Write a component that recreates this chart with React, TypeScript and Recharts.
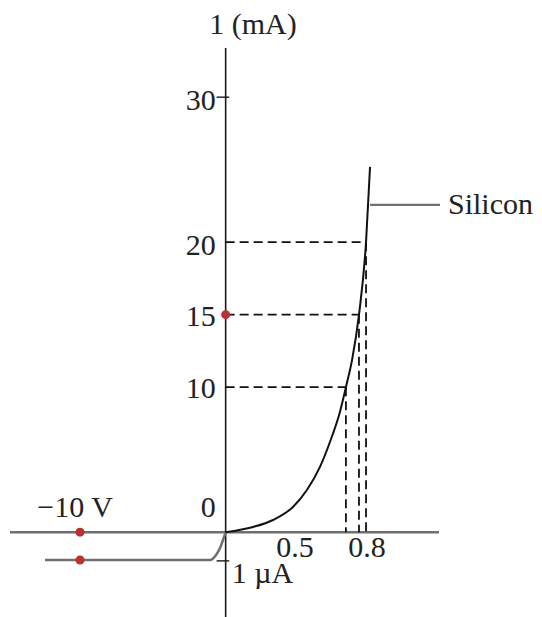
import React from 'react';
import { ComposedChart, XAxis, YAxis, Line, Scatter, ReferenceLine } from 'recharts';

// Forward-bias silicon curve (V in volts, I in mA)
const forwardCurve = [
  { v: 0, i: 0 },
  { v: 0.151, i: 0.36 },
  { v: 0.261, i: 0.84 },
  { v: 0.371, i: 1.74 },
  { v: 0.448, i: 2.91 },
  { v: 0.52, i: 4.5 },
  { v: 0.575, i: 6.22 },
  { v: 0.63, i: 8.29 },
  { v: 0.663, i: 10.0 },
  { v: 0.697, i: 11.88 },
  { v: 0.735, i: 14.98 },
  { v: 0.774, i: 20.01 },
  { v: 0.796, i: 25.19 },
];

// Reverse-bias branch (not to scale: labelled −10 V / 1 µA)
const reverseCurve = [
  { v: -0.996, i: -1.92 },
  { v: -0.0863, i: -1.92 },
  { v: -0.053, i: -1.57 },
  { v: -0.031, i: -1.09 },
  { v: -0.0147, i: -0.54 },
  { v: 0, i: 0 },
];

// Operating points
const markedCurrents = [10, 15, 20];
const markedVoltages = [0.663, 0.735, 0.774];

const redDots = [
  { v: -0.803, i: 0 },
  { v: -0.803, i: -1.92 },
  { v: 0, i: 15 },
];

const yTickLabels = [
  { v: -0.055, i: 29.85, text: '30' },
  { v: -0.055, i: 19.85, text: '20' },
  { v: -0.055, i: 14.95, text: '15' },
  { v: -0.055, i: 9.95, text: '10' },
  { v: -0.055, i: 1.75, text: '0' },
];

const xTickLabels = [
  { v: 0.382, i: -1.0, text: '0.5' },
  { v: 0.779, i: -1.0, text: '0.8' },
];

const otherLabels = [
  { v: 0.151, i: 35.1, text: '1 (mA)', anchor: 'middle' },
  { v: -0.83, i: 1.75, text: '\u221210 V', anchor: 'middle' },
  { v: 0.034, i: -2.8, text: '1 \u00b5A', anchor: 'start' },
  { v: 1.226, i: 22.7, text: 'Silicon', anchor: 'start' },
];

const axisTicks = [30, -1.98];
const siliconLeader = { from: 0.796, to: 1.182, i: 22.57 };

const FONT = '"Liberation Serif", "Times New Roman", serif';

const TextShape = (anchor: string) => (props: any) => {
  const { cx, cy, payload } = props;
  return (
    <text
      x={cx}
      y={cy}
      textAnchor={payload.anchor || anchor}
      dominantBaseline="central"
      fontFamily={FONT}
      fontSize={30}
      fill="#222"
    >
      {payload.text}
    </text>
  );
};

const DotShape = (props: any) => {
  const { cx, cy } = props;
  return <circle cx={cx} cy={cy} r={4.5} fill="#b8322e" />;
};

export default function App() {
  return (
    <div style={{ position: 'absolute', left: 8, top: 8, width: 526, height: 609 }}>
      <ComposedChart
        width={526}
        height={609}
        margin={{ top: 0, right: 0, bottom: 0, left: 0 }}
      >
        <XAxis type="number" dataKey="v" domain={[-1.2, 1.7]} hide allowDataOverflow />
        <YAxis type="number" dataKey="i" domain={[-5.85, 36.15]} hide allowDataOverflow />

        {/* axes */}
        <ReferenceLine
          segment={[{ x: -1.189, y: 0 }, { x: 1.176, y: 0 }]}
          stroke="#6f6f6f"
          strokeWidth={2.5}
        />
        <ReferenceLine
          segment={[{ x: 0, y: 33.4 }, { x: 0, y: -5.85 }]}
          stroke="#1a1a1a"
          strokeWidth={1.6}
        />
        {axisTicks.map((t) => (
          <ReferenceLine
            key={'t' + t}
            segment={[{ x: -0.05, y: t }, { x: 0.02, y: t }]}
            stroke="#1a1a1a"
            strokeWidth={1.4}
          />
        ))}

        {/* dashed guides */}
        {markedCurrents.map((c, k) => (
          <ReferenceLine
            key={'h' + c}
            segment={[{ x: 0, y: c }, { x: markedVoltages[k], y: c }]}
            stroke="#111"
            strokeWidth={1.8}
            strokeDasharray="9 5"
          />
        ))}
        {markedVoltages.map((v, k) => (
          <ReferenceLine
            key={'v' + v}
            segment={[{ x: v, y: markedCurrents[k] }, { x: v, y: 0 }]}
            stroke="#111"
            strokeWidth={1.8}
            strokeDasharray="9 5"
          />
        ))}

        {/* Silicon leader */}
        <ReferenceLine
          segment={[
            { x: siliconLeader.from, y: siliconLeader.i },
            { x: siliconLeader.to, y: siliconLeader.i },
          ]}
          stroke="#6f6f6f"
          strokeWidth={2.2}
        />

        <Line
          data={reverseCurve}
          dataKey="i"
          type="monotone"
          stroke="#6f6f6f"
          strokeWidth={2.5}
          dot={false}
          activeDot={false}
          isAnimationActive={false}
        />
        <Line
          data={forwardCurve}
          dataKey="i"
          type="monotone"
          stroke="#111"
          strokeWidth={2}
          dot={false}
          activeDot={false}
          isAnimationActive={false}
        />

        <Scatter data={redDots} dataKey="i" shape={DotShape} isAnimationActive={false} />
        <Scatter data={yTickLabels} dataKey="i" shape={TextShape('end')} isAnimationActive={false} />
        <Scatter data={xTickLabels} dataKey="i" shape={TextShape('middle')} isAnimationActive={false} />
        <Scatter data={otherLabels} dataKey="i" shape={TextShape('middle')} isAnimationActive={false} />
      </ComposedChart>
    </div>
  );
}
